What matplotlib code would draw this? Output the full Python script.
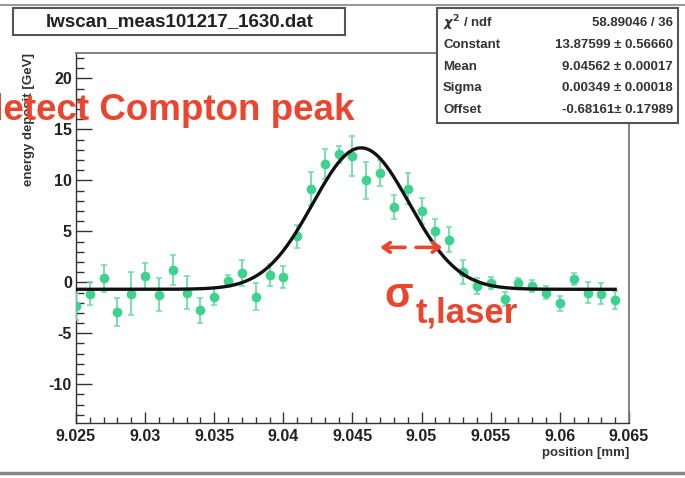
import numpy as np
import matplotlib
matplotlib.use("Agg")
import matplotlib.pyplot as plt
from matplotlib.patches import Rectangle
from matplotlib.lines import Line2D
from matplotlib.ticker import MultipleLocator, FixedLocator

# wire scan: energy deposit vs. wire position
position = [9.025, 9.026, 9.027, 9.028, 9.029, 9.030, 9.031, 9.032, 9.033, 9.034,
            9.035, 9.036, 9.037, 9.038, 9.039, 9.040, 9.041, 9.042, 9.043, 9.044,
            9.045, 9.046, 9.047, 9.048, 9.049, 9.050, 9.051, 9.052, 9.053, 9.054,
            9.055, 9.056, 9.057, 9.058, 9.059, 9.060, 9.061, 9.062, 9.063, 9.064]
energy = [-2.35, -1.1, 0.4, -2.9, -1.1, 0.6, -1.2, 1.2, -1.0, -2.75,
          -1.4, 0.13, 0.9, -1.4, 0.7, 0.55, 4.5, 9.2, 11.6, 12.55,
          12.4, 10.0, 10.75, 7.4, 9.2, 7.0, 5.0, 4.2, 1.0, -0.35,
          -0.05, -1.65, -0.1, -0.35, -1.0, -2.05, 0.35, -1.0, -1.1, -1.75]
energy_err = [1.3, 1.1, 1.3, 1.4, 2.1, 1.3, 1.6, 1.5, 1.6, 1.2,
              0.8, 0.6, 1.3, 1.3, 1.1, 1.1, 1.1, 1.6, 1.5, 0.8,
              2.0, 1.8, 1.3, 1.2, 1.5, 1.3, 1.2, 1.2, 1.2, 0.8,
              0.6, 0.7, 0.5, 0.6, 0.65, 0.75, 0.6, 1.0, 1.05, 0.9]

# gaussian + offset fit result
fit_const, fit_const_err = 13.87599, 0.56660
fit_mean, fit_mean_err = 9.04562, 0.00017
fit_sigma, fit_sigma_err = 0.00349, 0.00018
fit_offset, fit_offset_err = -0.68161, 0.17989
chi2, ndf = 58.89046, 36

xticks = [9.025, 9.03, 9.035, 9.04, 9.045, 9.05, 9.055, 9.06, 9.065]
xticklabels = ["9.025", "9.03", "9.035", "9.04", "9.045", "9.05", "9.055", "9.06", "9.065"]

W, H = 685, 478
RED = "#ea452e"
GREEN = "#3fd28f"
FONT = "Liberation Sans"

plt.rcParams["font.family"] = [FONT, "DejaVu Sans"]
plt.rcParams["font.weight"] = "bold"
plt.rcParams["axes.unicode_minus"] = False

fig = plt.figure(figsize=(W / 100, H / 100), dpi=100)

def fx(px):
    return px / W

def fy(py):
    return 1 - py / H

ax = fig.add_axes([fx(76), fy(423), fx(629) - fx(76), fy(53) - fy(423)])

ax.errorbar(position, energy, yerr=energy_err, fmt="o", color=GREEN, ms=6,
            elinewidth=1.3, capsize=2.2, capthick=1.1, ecolor="#6ddcaa", zorder=3)

xs = np.linspace(position[0], position[-1], 400)
ys = fit_const * np.exp(-0.5 * ((xs - fit_mean) / fit_sigma) ** 2) + fit_offset
ax.plot(xs, ys, color="#111111", lw=2.4, zorder=4)

ax.set_xlim(9.025, 9.065)
ax.set_ylim(-13.8, 22.5)
ax.xaxis.set_major_locator(FixedLocator(xticks))
ax.set_xticklabels(xticklabels)
ax.xaxis.set_minor_locator(MultipleLocator(0.001))
ax.yaxis.set_major_locator(MultipleLocator(5))
ax.yaxis.set_minor_locator(MultipleLocator(1))
ax.tick_params(axis="both", which="both", direction="in", top=False, right=False,
               color="#333333", width=1.0, labelsize=11.5, labelcolor="#222222")
ax.tick_params(axis="x", which="major", length=8, pad=4)
ax.tick_params(axis="x", which="minor", length=4)
ax.tick_params(axis="y", which="major", length=11.5, pad=3)
ax.tick_params(axis="y", which="minor", length=5.5)
for lab in ax.get_xticklabels() + ax.get_yticklabels():
    lab.set_fontweight("bold")
for side in ["left", "bottom"]:
    ax.spines[side].set_color("#333333")
    ax.spines[side].set_linewidth(1.0)
for side in ["right", "top"]:
    ax.spines[side].set_color("#777777")
    ax.spines[side].set_linewidth(1.3)

fig.text(fx(629), fy(453), "position [mm]", ha="right", va="center",
         fontsize=9.5, fontweight="bold", color="#333333")
fig.text(fx(29), fy(53), "energy deposit [GeV]", rotation=90, ha="center", va="top",
         fontsize=9.5, fontweight="bold", color="#333333")

# canvas border lines
fig.add_artist(Line2D([0, 1], [fy(5), fy(5)], transform=fig.transFigure, color="#999999", lw=1.5))
fig.add_artist(Line2D([0, 1], [fy(473), fy(473)], transform=fig.transFigure, color="#888888", lw=2.5))

# title box
fig.add_artist(Rectangle((fx(13), fy(35)), fx(345) - fx(13), fy(8) - fy(35),
                         transform=fig.transFigure, facecolor="white",
                         edgecolor="#555555", lw=1.5, zorder=5))
fig.text(fx(180), fy(22), "lwscan_meas101217_1630.dat", ha="center", va="center",
         fontsize=13.5, fontweight="bold", color="#222222", zorder=6)

# stats box
fig.add_artist(Rectangle((fx(437), fy(123)), fx(678) - fx(437), fy(8) - fy(123),
                         transform=fig.transFigure, facecolor="white",
                         edgecolor="#555555", lw=1.5, zorder=5))
stat_names = [r"$\chi^2$ / ndf", "Constant", "Mean", "Sigma", "Offset"]
stat_values = [f"{chi2:.5f} / {ndf}",
               f"{fit_const:.5f} \u00b1 {fit_const_err:.5f}",
               f"{fit_mean:.5f} \u00b1 {fit_mean_err:.5f}",
               f"{fit_sigma:.5f} \u00b1 {fit_sigma_err:.5f}",
               f"{fit_offset:.5f}\u00b1 {fit_offset_err:.5f}"]
stat_rows = [23, 45, 67, 88, 110]
for name, val, row in zip(stat_names, stat_values, stat_rows):
    fig.text(fx(443), fy(row), name, ha="left", va="center", fontsize=9.5,
             fontweight="bold", color="#333333", zorder=6)
    fig.text(fx(673), fy(row), val, ha="right", va="center", fontsize=9.5,
             fontweight="bold", color="#333333", zorder=6)

# annotations
fig.text(fx(-19), fy(120), "detect Compton peak", ha="left", va="baseline",
         fontsize=26.5, fontweight="bold", color=RED, zorder=7)
fig.text(fx(384), fy(307), "\u03c3", ha="left", va="baseline",
         fontsize=30, fontweight="bold", color=RED, zorder=7)
fig.text(fx(416), fy(323), "t,laser", ha="left", va="baseline",
         fontsize=25, fontweight="bold", color=RED, zorder=7)

arrow_y = 3.43
ax.annotate("", xy=(9.0468, arrow_y), xytext=(9.0490, arrow_y),
            arrowprops=dict(arrowstyle="->,head_length=0.5,head_width=0.35", color=RED, lw=2.6),
            annotation_clip=False, zorder=8)
ax.annotate("", xy=(9.0517, arrow_y), xytext=(9.0494, arrow_y),
            arrowprops=dict(arrowstyle="->,head_length=0.5,head_width=0.35", color=RED, lw=2.6),
            annotation_clip=False, zorder=8)

fig.savefig("out.png", dpi=100)
